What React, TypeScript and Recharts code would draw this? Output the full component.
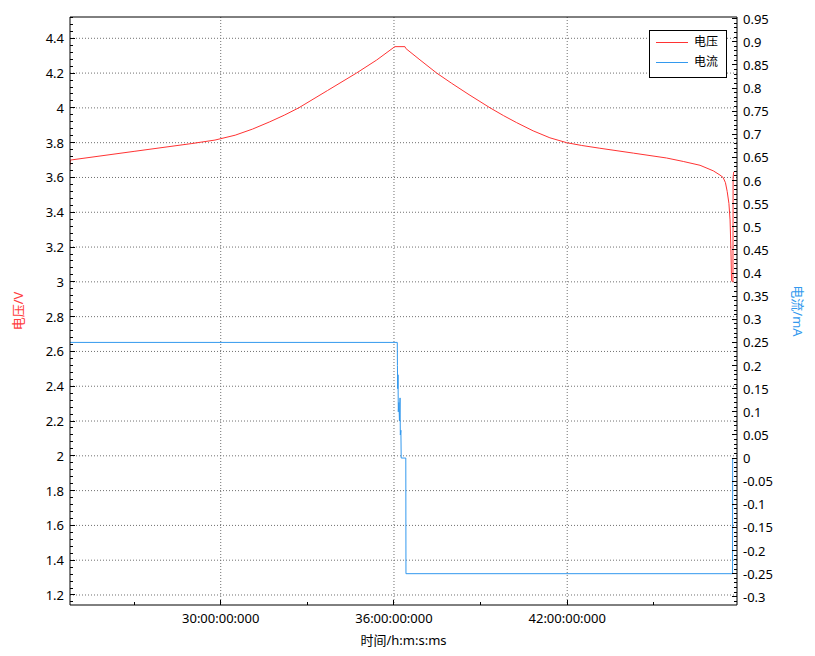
import React from 'react';
import { LineChart, Line, XAxis, YAxis, CartesianGrid, Legend, Label } from 'recharts';

// ---------- data ----------
const voltageHours = [
  24.78, 24.79, 27.0, 29.0, 29.8, 30.5, 31.1, 31.7, 32.2, 32.7, 33.7, 34.7, 35.4, 36.03,
  36.38, 36.41, 36.42, 36.9, 37.48, 38.0, 38.6, 39.33, 39.8, 40.25, 40.82, 41.4, 41.98, 42.5,
  43.13, 44.29, 45.44, 46.02, 46.6, 47.06, 47.29, 47.4, 47.48, 47.54, 47.6, 47.64, 47.67, 47.69,
  47.72, 47.74, 47.745, 47.76, 47.77,
];
const voltageValues = [
  3.67, 3.7, 3.75, 3.795, 3.815, 3.843, 3.878, 3.92, 3.958, 4.0, 4.1, 4.2, 4.275, 4.352,
  4.352, 4.342, 4.34, 4.276, 4.2, 4.141, 4.076, 4.0, 3.955, 3.915, 3.868, 3.828, 3.8, 3.784,
  3.768, 3.74, 3.712, 3.692, 3.67, 3.638, 3.614, 3.6, 3.57, 3.52, 3.451, 3.356, 3.183, 3.011,
  3.0, 3.0, 3.6, 3.625, 3.633,
];
const currentHours = [
  24.78, 36.115, 36.12, 36.13, 36.14, 36.15, 36.17, 36.19, 36.21, 36.22, 36.24, 36.25, 36.41,
  36.415, 47.725, 47.73,
];
const currentValues = [
  0.25, 0.25, 0.2, 0.15, 0.18, 0.1, 0.12, 0.08, 0.13, 0.05, 0.06, 0.0, 0.0, -0.25, -0.25, 0.0,
];

const xMajorTicks = [30, 36, 42];
const xTickLabels = ['30:00:00:000', '36:00:00:000', '42:00:00:000'];
const xMinorTicks = [27, 33, 39, 45];
const topTicks = [1, 2, 3, 4];
const leftMajorTicks = [1.2, 1.4, 1.6, 1.8, 2, 2.2, 2.4, 2.6, 2.8, 3, 3.2, 3.4, 3.6, 3.8, 4, 4.2, 4.4];
const rightMajorTicks = [
  -0.3, -0.25, -0.2, -0.15, -0.1, -0.05, 0, 0.05, 0.1, 0.15, 0.2, 0.25, 0.3, 0.35, 0.4, 0.45, 0.5,
  0.55, 0.6, 0.65, 0.7, 0.75, 0.8, 0.85, 0.9, 0.95,
];

const seriesNames = ['电压', '电流'];
const xTitle = '时间/h:m:s:ms';
const leftTitle = '电压/V';
const rightTitle = '电流/mA';

// ---------- derived ----------
const voltageData = voltageHours.map((t, i) => ({ t, v: voltageValues[i] }));
const currentData = currentHours.map((t, i) => ({ t, c: currentValues[i] }));

const subdivide = (step: number, from: number, to: number) => {
  const out: number[] = [];
  for (let k = from; k <= to; k++) out.push(Math.round(k * step * 1000) / 1000);
  return out;
};
const leftTicks = subdivide(0.04, 29, 113);
const rightTicks = subdivide(0.01, -31, 95);
const xTicks = [...xMinorTicks, ...xMajorTicks].sort((a, b) => a - b);

const RED = '#ff3333';
const BLUE = '#3399ee';
const FONT = "'Noto Sans', 'Noto Sans CJK SC', sans-serif";
const GAP = 6;
const MAJ = 5;
const MIN = 3;

const isIn = (arr: number[], v: number) => arr.some((a) => Math.abs(a - v) < 1e-6);
const fmt = (v: number) => String(Number(v.toFixed(2)));

const LeftTick = (p: any) => {
  const { x, y, payload } = p;
  const v = payload.value;
  const major = isIn(leftMajorTicks, v);
  const ax = x + GAP;
  return (
    <g>
      <line x1={ax} x2={ax + (major ? MAJ : MIN)} y1={y} y2={y} stroke="#000" shapeRendering="crispEdges" />
      {major && (
        <text x={x} y={y} textAnchor="end" dominantBaseline="central" fontSize={13} fontFamily={FONT} fill="#000">
          {fmt(v)}
        </text>
      )}
    </g>
  );
};

const RightTick = (p: any) => {
  const { x, y, payload } = p;
  const v = payload.value;
  const major = isIn(rightMajorTicks, v);
  const ax = x - GAP;
  return (
    <g>
      <line x1={ax} x2={ax - (major ? MAJ : MIN)} y1={y} y2={y} stroke="#000" shapeRendering="crispEdges" />
      {major && (
        <text x={x} y={y} textAnchor="start" dominantBaseline="central" fontSize={13} fontFamily={FONT} fill="#000">
          {fmt(v)}
        </text>
      )}
    </g>
  );
};

const BOTTOM_GAP = 13;
const BottomTick = (p: any) => {
  const { x, y, payload } = p;
  const v = payload.value;
  const idx = xMajorTicks.findIndex((a) => Math.abs(a - v) < 1e-6);
  const major = idx >= 0;
  const ay = y - BOTTOM_GAP;
  return (
    <g>
      <line x1={x} x2={x} y1={ay} y2={ay - (major ? MAJ : MIN)} stroke="#000" shapeRendering="crispEdges" />
      {major && (
        <text x={x} y={y} textAnchor="middle" dominantBaseline="central" fontSize={13} fontFamily={FONT} fill="#000">
          {xTickLabels[idx]}
        </text>
      )}
    </g>
  );
};

const TopTick = (p: any) => {
  const { x, y } = p;
  return <line x1={x} x2={x} y1={y} y2={y + MAJ} stroke="#000" shapeRendering="crispEdges" />;
};

const LegendBox = () => (
  <div
    style={{
      position: 'relative',
      boxSizing: 'border-box',
      width: 78,
      height: 48,
      border: '1px solid #000',
      background: '#fff',
      fontFamily: FONT,
      fontSize: 12,
      color: '#000',
    }}
  >
    {seriesNames.map((n, i) => (
      <div key={n}>
        <div
          style={{
            position: 'absolute',
            left: 6,
            top: 11 + i * 20,
            width: 32,
            height: 0,
            borderTop: `1px solid ${i === 0 ? RED : BLUE}`,
          }}
        />
        <div style={{ position: 'absolute', left: 44, top: 3 + i * 20, lineHeight: '16px' }}>{n}</div>
      </div>
    ))}
  </div>
);

export default function App() {
  return (
    <LineChart width={807} height={648} margin={{ top: 8, right: 0, bottom: 0, left: 0 }}>
      <CartesianGrid
        xAxisId="bottom"
        yAxisId="left"
        stroke="#707070"
        strokeDasharray="1 2"
        horizontalValues={leftMajorTicks}
        verticalValues={xMajorTicks}
      />
      <XAxis
        xAxisId="bottom"
        dataKey="t"
        type="number"
        domain={[24.78, 47.88]}
        allowDataOverflow
        ticks={xTicks}
        interval={0}
        height={51}
        tickSize={0}
        tickMargin={BOTTOM_GAP}
        tickLine={false}
        axisLine={{ stroke: '#000' }}
        tick={BottomTick}
      >
        <Label
          content={(p: any) => {
            const vb = p.viewBox || {};
            const cx = (vb.x ?? 62) + (vb.width ?? 667) / 2;
            const cy = (vb.y ?? 597) + 35;
            return (
              <text x={cx} y={cy} textAnchor="middle" dominantBaseline="central" fontSize={13} fontFamily={FONT} fill="#000">
                {xTitle}
              </text>
            );
          }}
        />
      </XAxis>
      <XAxis
        xAxisId="top"
        orientation="top"
        type="number"
        domain={[0, 5]}
        allowDataOverflow
        ticks={topTicks}
        interval={0}
        height={1}
        tickSize={0}
        tickMargin={0}
        tickLine={false}
        axisLine={{ stroke: '#000' }}
        tick={TopTick}
      />
      <YAxis
        yAxisId="left"
        type="number"
        domain={[1.1425, 4.5224]}
        allowDataOverflow
        ticks={leftTicks}
        interval={0}
        width={62}
        tickSize={0}
        tickMargin={GAP}
        tickLine={false}
        axisLine={{ stroke: '#000' }}
        tick={LeftTick}
      >
        <Label
          content={(p: any) => {
            const vb = p.viewBox || {};
            const cx = (vb.x ?? 0) + 10;
            const cy = (vb.y ?? 9) + (vb.height ?? 588) / 2;
            return (
              <text
                x={cx}
                y={cy}
                transform={`rotate(-90 ${cx} ${cy})`}
                textAnchor="middle"
                dominantBaseline="central"
                fontSize={13}
                fontFamily={FONT}
                fill="#ff4040"
              >
                {leftTitle}
              </text>
            );
          }}
        />
      </YAxis>
      <YAxis
        yAxisId="right"
        orientation="right"
        type="number"
        domain={[-0.3177, 0.9535]}
        allowDataOverflow
        ticks={rightTicks}
        interval={0}
        width={78}
        tickSize={0}
        tickMargin={GAP}
        tickLine={false}
        axisLine={{ stroke: '#000' }}
        tick={RightTick}
      >
        <Label
          content={(p: any) => {
            const vb = p.viewBox || {};
            const cx = (vb.x ?? 729) + 61;
            const cy = (vb.y ?? 9) + (vb.height ?? 588) / 2;
            return (
              <text
                x={cx}
                y={cy}
                transform={`rotate(90 ${cx} ${cy})`}
                textAnchor="middle"
                dominantBaseline="central"
                fontSize={13}
                fontFamily={FONT}
                fill={BLUE}
              >
                {rightTitle}
              </text>
            );
          }}
        />
      </YAxis>
      <Legend
        layout="vertical"
        align="center"
        verticalAlign="middle"
        wrapperStyle={{ left: 641, top: 22, width: 78, height: 48 }}
        content={() => <LegendBox />}
      />
      <Line
        xAxisId="bottom"
        yAxisId="left"
        data={voltageData}
        dataKey="v"
        name={seriesNames[0]}
        type="linear"
        stroke={RED}
        strokeWidth={1}
        dot={false}
        activeDot={false}
        isAnimationActive={false}
      />
      <Line
        xAxisId="bottom"
        yAxisId="right"
        data={currentData}
        dataKey="c"
        name={seriesNames[1]}
        type="linear"
        stroke={BLUE}
        strokeWidth={1}
        dot={false}
        activeDot={false}
        isAnimationActive={false}
      />
    </LineChart>
  );
}
